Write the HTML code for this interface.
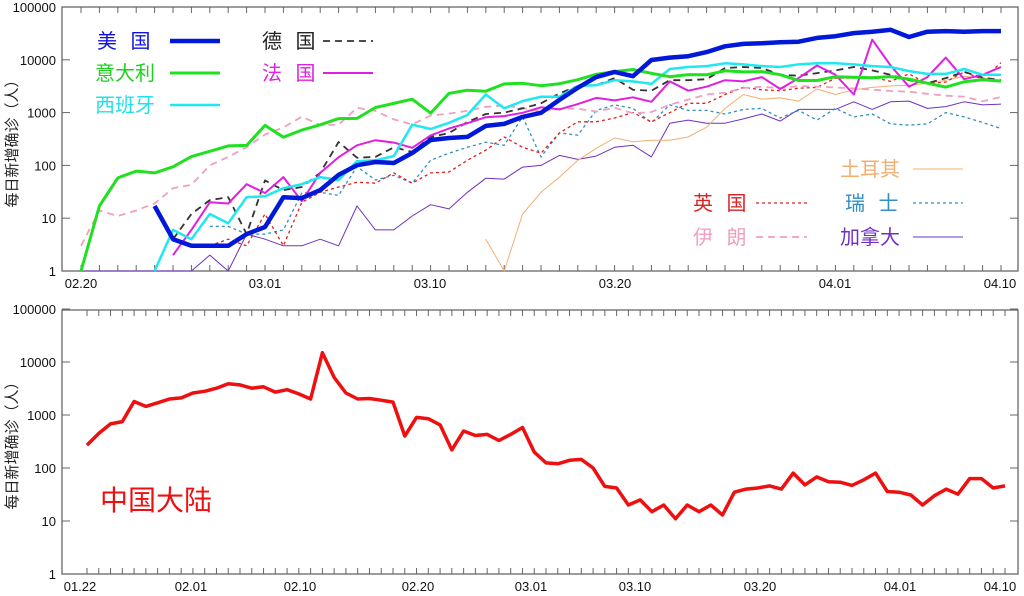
<!DOCTYPE html>
<html><head><meta charset="utf-8">
<style>
html,body{margin:0;padding:0;background:#fff;}
svg{display:block;}
text{font-family:"Liberation Sans","Noto Sans CJK SC",sans-serif;}
</style></head>
<body>
<svg id="s" width="1024" height="596" xmlns="http://www.w3.org/2000/svg">
<defs>
<clipPath id="c1"><rect x="62" y="6" width="956" height="266"/></clipPath>
<clipPath id="c2"><rect x="62" y="309" width="956" height="266"/></clipPath>
</defs>
<g id="g"></g>
<!-- legends top -->
<g font-size="20">
<text x="97" y="48" fill="#1010e0" letter-spacing="4">美 国</text>
<line x1="170" y1="41" x2="220" y2="41" stroke="#0018d8" stroke-width="4.5"/>
<text x="95" y="80" fill="#20d020">意大利</text>
<line x1="170" y1="73" x2="220" y2="73" stroke="#20e020" stroke-width="3"/>
<text x="95" y="112" fill="#20e0e8">西班牙</text>
<line x1="170" y1="105" x2="220" y2="105" stroke="#20e8f0" stroke-width="2.5"/>
<text x="262" y="48" fill="#222" letter-spacing="4">德 国</text>
<line x1="323" y1="41" x2="373" y2="41" stroke="#333" stroke-width="1.8" stroke-dasharray="7,5"/>
<text x="262" y="80" fill="#e020e0" letter-spacing="4">法 国</text>
<line x1="323" y1="73" x2="373" y2="73" stroke="#e020e0" stroke-width="2"/>
<text x="840" y="176" fill="#f0b070">土耳其</text>
<line x1="913" y1="169" x2="963" y2="169" stroke="#f0b070" stroke-width="1"/>
<text x="693" y="210" fill="#e02020" letter-spacing="4">英 国</text>
<line x1="756" y1="203" x2="807" y2="203" stroke="#e02020" stroke-width="1.3" stroke-dasharray="3,3"/>
<text x="845" y="210" fill="#3090c0" letter-spacing="4">瑞 士</text>
<line x1="913" y1="203" x2="963" y2="203" stroke="#3090c0" stroke-width="1.3" stroke-dasharray="3,3"/>
<text x="693" y="244" fill="#f0a0c0" letter-spacing="4">伊 朗</text>
<line x1="756" y1="237" x2="807" y2="237" stroke="#f0a0c0" stroke-width="1.8" stroke-dasharray="7,5"/>
<text x="840" y="244" fill="#7030c0">加拿大</text>
<line x1="913" y1="237" x2="963" y2="237" stroke="#7030c0" stroke-width="1"/>
</g>
<text x="100" y="510" font-size="28" fill="#ee1010">中国大陆</text>
<text transform="translate(17,140) rotate(-90)" font-size="15" text-anchor="middle" fill="#222">每日新增确诊（人）</text>
<text transform="translate(17,442) rotate(-90)" font-size="15" text-anchor="middle" fill="#222">每日新增确诊（人）</text>
</svg>
<script>
var g=document.getElementById('g'),h='';
function yT(v){return 271-Math.log10(v)*52.8;}
function yB(v){return 574-Math.log10(v)*53;}
function xT(d){return 81+d*18.4;}
function panel(top,bot,yf,labels,tickxs){
 h+='<rect x="62" y="'+top+'" width="956" height="'+(bot-top)+'" fill="none" stroke="#666" stroke-width="1.3"/>';
 var vals=[1,10,100,1000,10000,100000];
 for(var i=0;i<6;i++){var y=yf(vals[i]);
  h+='<line x1="62" x2="70" y1="'+y+'" y2="'+y+'" stroke="#666"/><line x1="1010" x2="1018" y1="'+y+'" y2="'+y+'" stroke="#666"/>';
  h+='<text x="56" y="'+(y+5)+'" font-size="13" text-anchor="end" fill="#111">'+vals[i]+'</text>';}
 tickxs.forEach(function(x){h+='<line x1="'+x+'" x2="'+x+'" y1="'+top+'" y2="'+(top+6)+'" stroke="#666"/><line x1="'+x+'" x2="'+x+'" y1="'+(bot-6)+'" y2="'+bot+'" stroke="#666"/>';});
 labels.forEach(function(l){h+='<text x="'+l[1]+'" y="'+(bot+17)+'" font-size="13" text-anchor="middle" fill="#111">'+l[0]+'</text>';});
}
var tt=[];for(var d=0;d<=50;d++)tt.push(xT(d));
panel(7,271,yT,[['02.20',81],['03.01',265],['03.10',430],['03.20',615],['04.01',835],['04.10',1000]],tt);
var china=[270,450,680,750,1800,1450,1700,2000,2100,2600,2800,3200,3900,3700,3200,3400,2700,3000,2500,2000,15000,5100,2600,2000,2050,1900,1750,400,900,850,650,220,500,410,430,330,430,580,200,125,120,140,145,100,45,42,20,25,15,20,11,20,15,20,13,35,40,42,46,40,80,48,68,55,54,47,60,80,36,35,31,20,30,40,32,63,63,42,46];
var st=(1005-87)/(china.length-1),tb=[];for(var i=0;i<china.length;i++)tb.push(87+i*st);
panel(310,574,yB,[['01.22',80],['02.01',191],['02.10',300],['02.20',418],['03.01',531],['03.10',635],['03.20',760],['04.01',900],['04.10',1000]],tb);
function line(start,vals,col,w,dash){var p=[];vals.forEach(function(v,i){p.push(xT(start+i).toFixed(1)+','+yT(v).toFixed(1));});
 h+='<polyline clip-path="url(#c1)" points="'+p.join(' ')+'" fill="none" stroke="'+col+'" stroke-width="'+w+'" stroke-linejoin="round"'+(dash?' stroke-dasharray="'+dash+'"':'')+'/>';}
line(0,[1,1,1,1,1,1,1,2,1,5,4,3,3,4,3,17,6,6,11,18,15,31,57,55,93,100,155,130,150,220,240,145,630,720,630,630,760,940,690,1150,1150,1150,1600,1150,1600,1650,1200,1300,1600,1400,1450],'#7030c0',1);
line(22,[4,1,12,31,60,125,210,330,280,300,300,345,530,1200,2200,1800,1900,1650,2800,2200,2700,3000,3200,3300,3600,4100,4900,4500,4100],'#f0b070',1);
line(7,[7,7,5,5,6,30,31,27,95,53,65,46,125,170,220,275,240,830,145,410,375,1100,1400,1200,640,1400,1100,1100,940,1150,1200,790,1100,720,1200,830,940,610,580,610,1000,830,650,500],'#3090c0',1.3,'3,3');
line(7,[3,4,3,12,3,20,31,39,48,46,72,46,72,75,125,195,345,220,170,410,670,670,790,1000,670,1000,1500,1500,2200,3000,2700,2600,2900,3000,4500,4500,4700,3900,5400,3500,3800,5900,4300,8800],'#e02020',1.3,'3,3');
line(0,[3,14,11,14,19,37,43,100,145,220,385,523,835,586,591,1234,1076,743,595,881,958,1075,1289,1365,1209,1053,1178,1192,1046,1237,966,1028,1411,1762,2206,2389,2926,3076,2901,3186,3110,2987,2875,2715,2560,2483,2274,2089,1997,1634,1972],'#f0a0c0',1.8,'7,5');
line(5,[4,12,22,25,5,52,34,39,72,277,140,145,220,180,345,410,660,940,1000,1200,1500,2300,3200,3300,4500,2700,2600,4100,4100,4300,7000,7300,7000,5200,5000,5600,6300,7300,6300,5200,4100,3600,4500,5900,4600,4100],'#333',1.8,'7,5');
line(5,[2,6,20,19,44,30,60,21,72,143,240,300,270,215,370,500,630,820,860,990,1260,1150,1450,1900,1700,1950,1600,3900,2600,3100,4100,3900,4700,2800,4500,7800,5200,2200,24000,7800,3100,4700,11000,4300,5200,7300],'#e020e0',2);
line(4,[1,6,4,12,8,25,26,37,44,60,53,120,125,150,590,490,640,900,2200,1200,1650,2000,2000,3200,3300,4100,3900,3500,6700,7300,7600,8600,8200,7600,7300,8200,8600,8600,8200,7600,7300,6100,5400,5400,6700,5200,5200],'#20e8f0',2.5);
line(0,[1,17,58,78,72,94,147,185,234,239,573,342,466,587,769,778,1247,1492,1797,977,2313,2651,2547,3497,3590,3233,3526,4207,5322,5986,6557,5560,4789,5249,5210,6203,5909,5974,5217,4050,4053,4782,4668,4585,4805,4316,3599,3039,3836,4204,3951],'#20e020',3);
line(4,[17,4,3,3,3,5,6.8,25,24,34,66,101,116,111,172,303,330,346,560,610,830,990,1740,2950,4700,5900,4900,9900,11000,11700,14000,18000,20000,20500,21500,22000,26000,28000,32000,34000,37000,27000,34000,35000,34000,35000,35000],'#0018d8',4.5);
var p=[];china.forEach(function(v,i){p.push(tb[i].toFixed(1)+','+yB(v).toFixed(1));});
h+='<polyline clip-path="url(#c2)" points="'+p.join(' ')+'" fill="none" stroke="#ee1010" stroke-width="3.5" stroke-linejoin="round"/>';
g.innerHTML=h;
</script>
</body></html>
